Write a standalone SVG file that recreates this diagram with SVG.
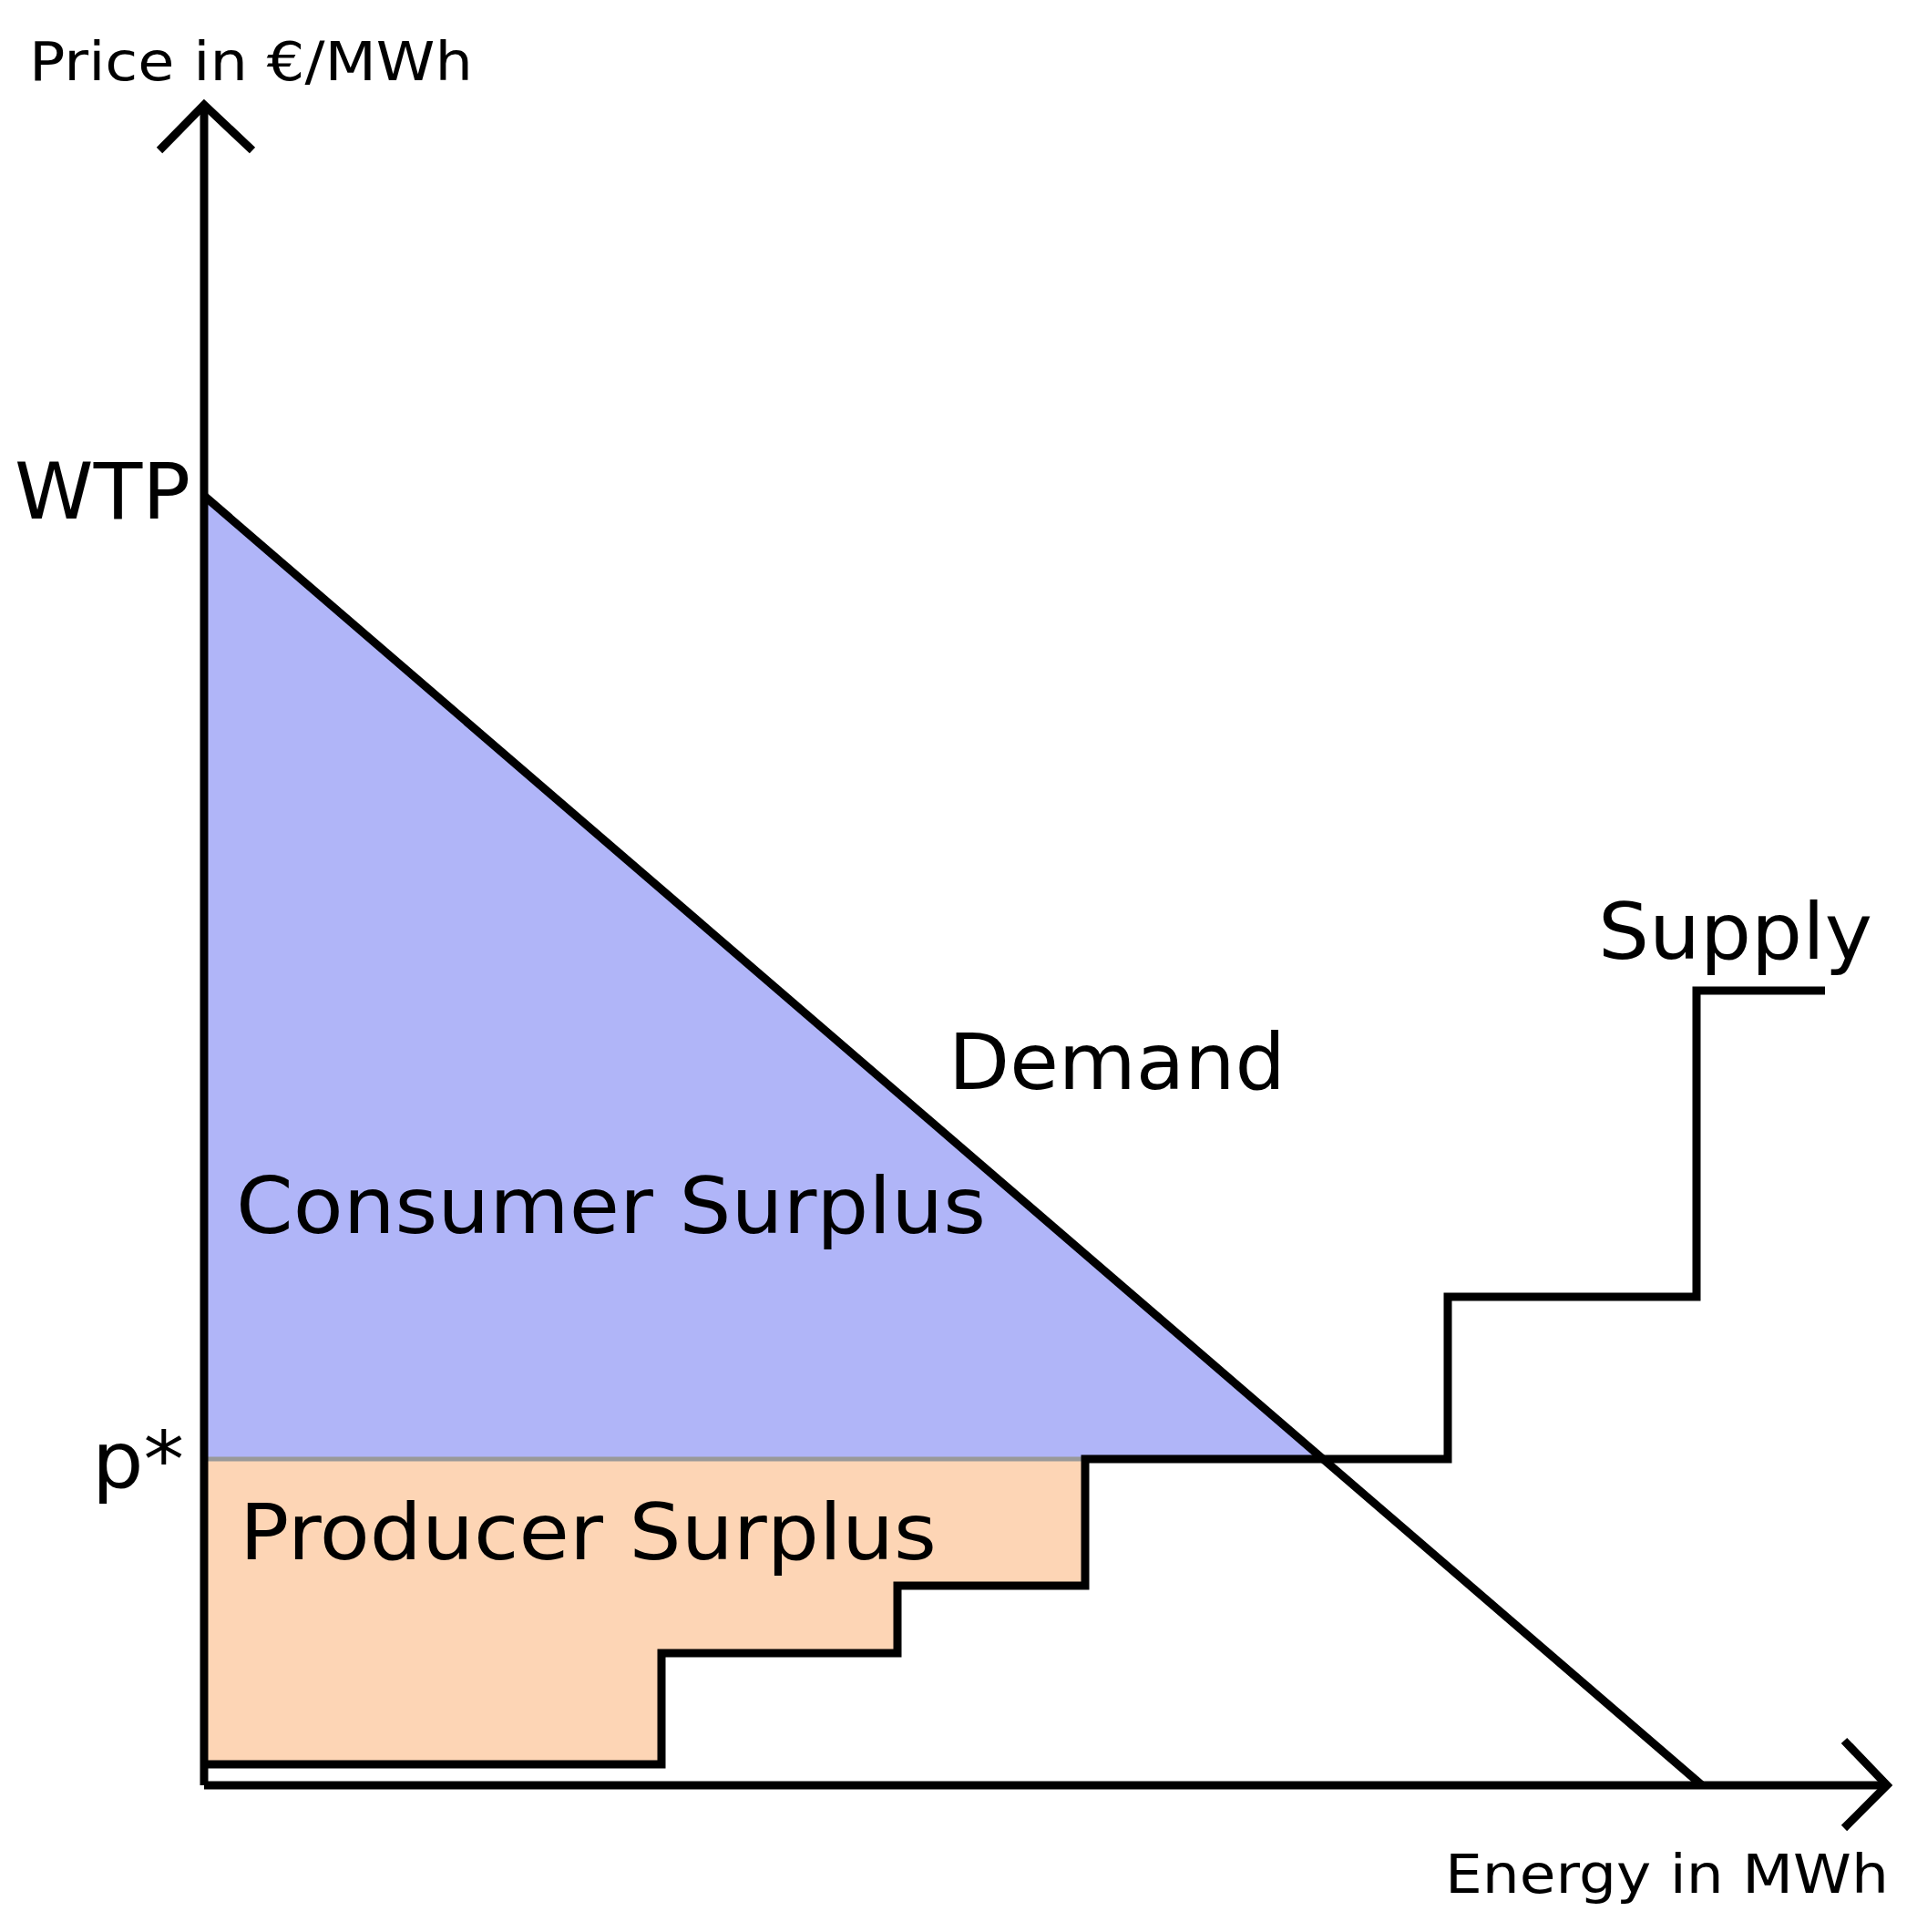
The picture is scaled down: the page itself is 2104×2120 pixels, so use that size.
<svg xmlns="http://www.w3.org/2000/svg" width="2104" height="2120" viewBox="0 0 2104 2120">
<style>
.ln{fill:none;stroke:#000;stroke-width:9;stroke-linecap:butt;stroke-linejoin:miter}
.t{font-family:"DejaVu Sans",sans-serif;fill:#000}
.big{font-size:86px}
.sm{font-size:59px}
</style>
<rect width="2104" height="2120" fill="#fff"/>
<g id="consumer-surplus"><polygon points="224,544 1450,1601 224,1601" fill="#b0b5f8"/></g>
<g id="producer-surplus"><polygon points="224,1601 1191,1601 1191,1740 985,1740 985,1814 726,1814 726,1936 224,1936" fill="#fdd5b5"/>
<line x1="224" y1="1601" x2="1191" y2="1601" stroke="#999" stroke-width="5"/></g>
<g id="connectors">
<polyline class="ln" points="224,1959 224,115"/>
<polyline class="ln" points="175,165 224,115 277,165"/>
<polyline class="ln" points="224,1959 2071,1959"/>
<polyline class="ln" points="2024,1910 2071,1959 2024,2006"/>
<polyline id="demand" class="ln" points="224,544 1868,1959"/>
<polyline id="supply" class="ln" points="224,1936 726,1936 726,1814 985,1814 985,1740 1191,1740 1191,1601 1589,1601 1589,1423 1862,1423 1862,1087 2003,1087"/>
</g>
<g id="labels">
<text class="t sm" x="32" y="88" textLength="487" lengthAdjust="spacingAndGlyphs">Price in €/MWh</text>
<text class="t big" x="16" y="569" textLength="193" lengthAdjust="spacingAndGlyphs">WTP</text>
<text class="t big" x="101" y="1632" textLength="101" lengthAdjust="spacingAndGlyphs">p*</text>
<text class="t big" x="1041" y="1195" textLength="370" lengthAdjust="spacingAndGlyphs">Demand</text>
<text class="t big" x="1754" y="1052" textLength="301" lengthAdjust="spacingAndGlyphs">Supply</text>
<text class="t big" x="259" y="1353" textLength="823" lengthAdjust="spacingAndGlyphs">Consumer Surplus</text>
<text class="t big" x="263" y="1711" textLength="765" lengthAdjust="spacingAndGlyphs">Producer Surplus</text>
<text class="t sm" x="1586" y="2077" textLength="487" lengthAdjust="spacingAndGlyphs">Energy in MWh</text>
</g>
</svg>
